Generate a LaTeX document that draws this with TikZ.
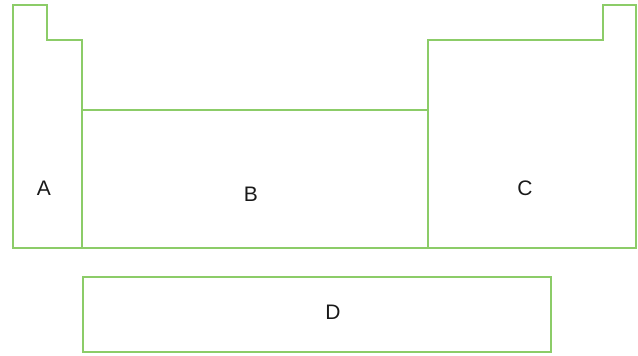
\documentclass[tikz,border=0pt]{standalone}
\usepackage{fontspec}
\setmainfont{Liberation Sans}
\definecolor{edge}{RGB}{140,204,104}
\begin{document}
\begin{tikzpicture}[x=1pt,y=-1pt,
  outline/.style={draw=edge,line width=1.5pt,line join=miter},
  lbl/.style={font=\fontsize{21}{24}\selectfont,text=black!90,inner sep=0pt}]
\useasboundingbox (0,0) rectangle (638,356);
\draw[outline] (13,5) -- (47,5) -- (47,40) -- (82,40) -- (82,110) -- (428,110) -- (428,40) -- (603,40) -- (603,5) -- (636,5) -- (636,248) -- (13,248) -- cycle;
\draw[outline] (82,110) -- (82,248);
\draw[outline] (428,110) -- (428,248);
\draw[outline] (83,277) rectangle (551,352);
\node[lbl] (A) at (44,188) {A};
\node[lbl] (B) at (251,194) {B};
\node[lbl] (C) at (525,188) {C};
\node[lbl] (D) at (333,312) {D};
\end{tikzpicture}
\end{document}
